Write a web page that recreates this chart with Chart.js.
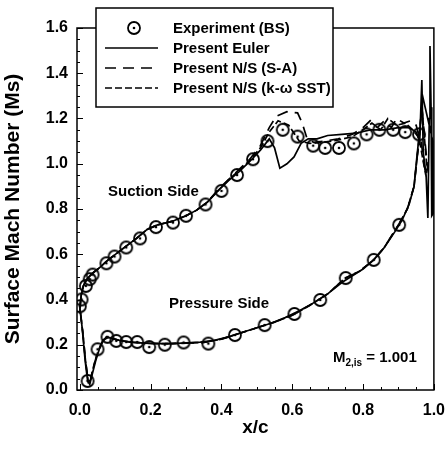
<!DOCTYPE html>
<html>
<head>
<meta charset="utf-8">
<script src="https://cdn.jsdelivr.net/npm/chart.js@4.4.1/dist/chart.umd.min.js"></script>
<style>
  body { margin: 0; background: #fff; }
</style>
</head>
<body>
<canvas id="grafica" width="448" height="453"></canvas>
<script type="text/javascript">

    // tick labels
    var xTicks = [0.0, 0.2, 0.4, 0.6, 0.8, 1.0]
    var yTicks = [0.0, 0.2, 0.4, 0.6, 0.8, 1.0, 1.2, 1.4, 1.6]

    // Experiment (BS) - suction side
    var expSuctionX = [0.000, 0.005, 0.017, 0.028, 0.036, 0.075, 0.098, 0.131, 0.170, 0.215, 0.263, 0.300, 0.355, 0.400, 0.444, 0.489, 0.530, 0.573, 0.615, 0.659, 0.693, 0.732, 0.774, 0.810, 0.846, 0.885, 0.919, 0.958]
    var expSuctionY = [0.370, 0.400, 0.460, 0.490, 0.510, 0.560, 0.590, 0.630, 0.670, 0.720, 0.740, 0.770, 0.820, 0.880, 0.950, 1.020, 1.100, 1.150, 1.120, 1.080, 1.070, 1.070, 1.090, 1.130, 1.150, 1.150, 1.140, 1.130]
    // Experiment (BS) - pressure side
    var expPressureX = [0.022, 0.050, 0.078, 0.103, 0.131, 0.162, 0.196, 0.240, 0.293, 0.363, 0.438, 0.522, 0.606, 0.679, 0.751, 0.830, 0.902]
    var expPressureY = [0.040, 0.180, 0.235, 0.217, 0.212, 0.212, 0.190, 0.200, 0.210, 0.205, 0.243, 0.287, 0.336, 0.398, 0.495, 0.575, 0.730]

    // Present Euler (suction side, trailing edge, pressure side back to leading edge)
    var eulerX = [0.000, 0.004, 0.010, 0.020, 0.035, 0.055, 0.080, 0.105, 0.130, 0.160, 0.190, 0.220, 0.260, 0.300, 0.330, 0.360, 0.390, 0.420, 0.450, 0.480, 0.510, 0.535, 0.550, 0.565, 0.585, 0.605, 0.625, 0.645, 0.670, 0.700, 0.740, 0.780, 0.820, 0.860, 0.900, 0.930, 0.950, 0.960,
                  0.966, 0.970, 0.978, 0.983, 0.987, 0.989, 0.992, 0.994, 0.998, 0.997,
                  0.968, 0.960, 0.952, 0.944, 0.930, 0.910, 0.890, 0.860, 0.830, 0.800, 0.770, 0.740, 0.700, 0.660, 0.620, 0.580, 0.540, 0.500, 0.460, 0.420, 0.380, 0.340, 0.300, 0.260, 0.220, 0.180, 0.140, 0.110, 0.090, 0.075, 0.065, 0.055, 0.045, 0.035, 0.028, 0.022, 0.015, 0.008, 0.003, 0.000]
    var eulerY = [0.360, 0.420, 0.460, 0.490, 0.515, 0.540, 0.575, 0.605, 0.635, 0.670, 0.710, 0.730, 0.745, 0.770, 0.795, 0.830, 0.880, 0.925, 0.965, 1.010, 1.060, 1.110, 1.070, 0.980, 1.000, 1.030, 1.090, 1.110, 1.110, 1.125, 1.130, 1.135, 1.150, 1.150, 1.160, 1.160, 1.140, 1.100,
                  1.370, 1.050, 0.950, 0.760, 1.200, 1.520, 1.250, 0.770, 0.780, 1.100,
                  1.300, 1.150, 1.030, 0.900, 0.820, 0.750, 0.700, 0.630, 0.575, 0.535, 0.505, 0.475, 0.425, 0.385, 0.350, 0.320, 0.295, 0.275, 0.255, 0.235, 0.220, 0.212, 0.208, 0.205, 0.205, 0.207, 0.212, 0.220, 0.228, 0.235, 0.215, 0.180, 0.130, 0.070, 0.025, 0.040, 0.130, 0.250, 0.330, 0.360]

    // Present N/S (S-A)
    var saX = [0.000, 0.004, 0.010, 0.020, 0.035, 0.055, 0.080, 0.105, 0.130, 0.160, 0.190, 0.220, 0.260, 0.300, 0.330, 0.360, 0.390, 0.420, 0.450, 0.480, 0.510, 0.535, 0.555, 0.585, 0.615, 0.628, 0.642, 0.660, 0.690, 0.730, 0.770, 0.800, 0.820, 0.840, 0.860, 0.880, 0.895, 0.915, 0.935, 0.950, 0.958,
               0.964, 0.972, 0.978, 0.982,
               0.966, 0.955, 0.944, 0.925, 0.900, 0.860, 0.830, 0.790, 0.750, 0.700, 0.650, 0.600, 0.550, 0.500, 0.450, 0.400, 0.350, 0.300, 0.250, 0.200, 0.150, 0.110, 0.080, 0.065, 0.050, 0.038, 0.030, 0.024, 0.016, 0.008, 0.000]
    var saY = [0.360, 0.420, 0.460, 0.490, 0.515, 0.540, 0.575, 0.605, 0.635, 0.670, 0.710, 0.730, 0.745, 0.770, 0.795, 0.830, 0.885, 0.930, 0.975, 1.020, 1.080, 1.160, 1.210, 1.230, 1.225, 1.180, 1.110, 1.095, 1.100, 1.110, 1.130, 1.160, 1.190, 1.160, 1.190, 1.160, 1.200, 1.180, 1.190, 1.170, 1.120,
               1.100, 1.000, 0.950, 0.980,
               1.250, 1.060, 0.900, 0.800, 0.730, 0.630, 0.575, 0.525, 0.495, 0.425, 0.375, 0.330, 0.300, 0.275, 0.250, 0.225, 0.210, 0.207, 0.205, 0.206, 0.211, 0.220, 0.232, 0.220, 0.165, 0.100, 0.045, 0.035, 0.130, 0.260, 0.360]

    // Present N/S (k-w SST)
    var sstX = [0.000, 0.004, 0.010, 0.020, 0.035, 0.055, 0.080, 0.105, 0.130, 0.160, 0.190, 0.220, 0.260, 0.300, 0.330, 0.360, 0.390, 0.420, 0.450, 0.480, 0.510, 0.535, 0.560, 0.590, 0.620, 0.650, 0.690, 0.730, 0.770, 0.800, 0.825, 0.850, 0.870, 0.895, 0.920, 0.940, 0.955,
                0.962, 0.970, 0.976, 0.980,
                0.966, 0.955, 0.944, 0.925, 0.900, 0.860, 0.830, 0.790, 0.750, 0.700, 0.650, 0.600, 0.550, 0.500, 0.450, 0.400, 0.350, 0.300, 0.250, 0.200, 0.150, 0.110, 0.080, 0.065, 0.050, 0.038, 0.030, 0.024, 0.016, 0.008, 0.000]
    var sstY = [0.360, 0.420, 0.460, 0.490, 0.515, 0.540, 0.575, 0.605, 0.635, 0.670, 0.710, 0.730, 0.745, 0.770, 0.795, 0.830, 0.880, 0.930, 0.970, 1.015, 1.070, 1.140, 1.190, 1.170, 1.100, 1.090, 1.095, 1.105, 1.120, 1.150, 1.180, 1.150, 1.200, 1.170, 1.180, 1.150, 1.120,
                1.080, 1.010, 0.960, 0.990,
                1.250, 1.060, 0.900, 0.800, 0.730, 0.630, 0.575, 0.525, 0.495, 0.425, 0.375, 0.330, 0.300, 0.275, 0.250, 0.225, 0.210, 0.207, 0.205, 0.206, 0.211, 0.220, 0.232, 0.220, 0.165, 0.100, 0.045, 0.035, 0.130, 0.260, 0.360]

    function puntos(xs, ys) {
        return xs.map((x, i) => ({x: x, y: ys[i]}))
    }

    // circle with a dot, like the scanned symbol
    function simbolo() {
        var c = document.createElement('canvas')
        c.width = 16; c.height = 16
        var g = c.getContext('2d')
        g.strokeStyle = '#000'
        g.lineWidth = 1.8
        g.beginPath(); g.arc(8, 8, 6, 0, Math.PI * 2); g.stroke()
        g.fillStyle = '#000'
        g.beginPath(); g.arc(8, 8, 1.3, 0, Math.PI * 2); g.fill()
        return c
    }
    var circulo = simbolo()
    var fuente = '"Liberation Sans", Arial, sans-serif'

    var marco = {
        id: 'marco',
        afterDatasetsDraw(chart) {
            var ctx = chart.ctx, a = chart.chartArea
            var x = chart.scales.x, y = chart.scales.y
            ctx.save()
            ctx.strokeStyle = '#000'
            ctx.lineWidth = 1.5
            ctx.strokeRect(a.left, a.top, a.right - a.left, a.bottom - a.top)
            ctx.lineWidth = 1
            ctx.beginPath()
            // inward ticks, minor every 0.05
            for (var i = 0; i <= 20; i++) {
                var px = Math.round(x.getPixelForValue(i * 0.05)) + 0.5
                var l = i % 4 === 0 ? 6 : 3
                ctx.moveTo(px, a.bottom); ctx.lineTo(px, a.bottom - l)
            }
            for (var j = 0; j <= 32; j++) {
                var py = Math.round(y.getPixelForValue(j * 0.05)) + 0.5
                var l2 = j % 4 === 0 ? 6 : 3
                ctx.moveTo(a.left, py); ctx.lineTo(a.left + l2, py)
            }
            ctx.stroke()

            // texts in the plot
            ctx.fillStyle = '#000'
            ctx.textBaseline = 'alphabetic'
            ctx.textAlign = 'left'
            ctx.font = 'bold 15px ' + fuente
            ctx.fillText('Suction Side', 108, 196)
            ctx.fillText('Pressure Side', 169, 308)
            ctx.fillText('M', 333, 362)
            var w = ctx.measureText('M').width
            ctx.font = 'bold 10px ' + fuente
            ctx.fillText('2,is', 333 + w, 366)
            var w2 = ctx.measureText('2,is').width
            ctx.font = 'bold 15px ' + fuente
            ctx.fillText(' = 1.001', 333 + w + w2, 362)
            ctx.restore()
        },
        afterDraw(chart) {
            // legend box overlapping the top frame
            var ctx = chart.ctx
            var bx = 96, by = 8, bw = 237, bh = 99
            ctx.save()
            ctx.fillStyle = '#fff'
            ctx.fillRect(bx, by, bw, bh)
            ctx.strokeStyle = '#000'
            ctx.lineWidth = 1.5
            ctx.strokeRect(bx, by, bw, bh)
            var filas = [28, 48, 68, 88]
            ctx.font = 'bold 15px ' + fuente
            ctx.textBaseline = 'middle'
            ctx.fillStyle = '#000'
            filas.forEach((fy, k) => {
                var ds = chart.data.datasets[k === 0 ? 0 : k + 1]
                if (k === 0) {
                    ctx.drawImage(circulo, 134 - 8, fy - 8)
                } else {
                    ctx.lineWidth = 1.7
                    ctx.setLineDash(ds.borderDash || [])
                    ctx.beginPath(); ctx.moveTo(105, fy); ctx.lineTo(158, fy); ctx.stroke()
                    ctx.setLineDash([])
                }
                ctx.fillText(ds.label, 173, fy + 1)
            })
            ctx.restore()
        }
    }

    var canvas = document.getElementById('grafica')
    var context = canvas.getContext('2d')

    var lineaBase = {
        showLine: true,
        pointRadius: 0,
        pointHoverRadius: 0,
        borderColor: '#000',
        borderWidth: 1.7,
        tension: 0,
        fill: false
    }

    var datos = {
        datasets: [{
            label: 'Experiment (BS)',
            data: puntos(expSuctionX, expSuctionY),
            pointStyle: circulo,
            showLine: false
        }, {
            label: 'Experiment (BS) pressure',
            data: puntos(expPressureX, expPressureY),
            pointStyle: circulo,
            showLine: false
        }, Object.assign({
            label: 'Present Euler',
            data: puntos(eulerX, eulerY)
        }, lineaBase), Object.assign({
            label: 'Present N/S (S-A)',
            data: puntos(saX, saY),
            borderDash: [11, 7]
        }, lineaBase), Object.assign({
            label: 'Present N/S (k-\u03c9 SST)',
            data: puntos(sstX, sstY),
            borderDash: [7, 3]
        }, lineaBase)]
    }

    window.grafica = new Chart(context, {
        type: 'scatter',
        data: datos,
        plugins: [marco],
        options: {
            responsive: false,
            animation: false,
            devicePixelRatio: 1,
            layout: { padding: { top: 28, right: 9, left: 0, bottom: 0 } },
            plugins: { legend: { display: false }, tooltip: { enabled: false } },
            scales: {
                x: {
                    type: 'linear',
                    min: -0.008,
                    max: 1.0,
                    afterBuildTicks: s => { s.ticks = xTicks.map(v => ({value: v})) },
                    afterFit: s => { s.height = 63 },
                    grid: { display: false },
                    border: { display: false },
                    ticks: {
                        color: '#000',
                        padding: 3,
                        maxRotation: 0,
                        font: { family: fuente, size: 16, weight: 'bold' },
                        callback: v => v.toFixed(1)
                    },
                    title: {
                        display: true,
                        text: 'x/c',
                        color: '#000',
                        padding: { top: 0, bottom: 14 },
                        font: { family: fuente, size: 19, weight: 'bold' }
                    }
                },
                y: {
                    type: 'linear',
                    min: 0,
                    max: 1.6,
                    afterBuildTicks: s => { s.ticks = yTicks.map(v => ({value: v})) },
                    afterFit: s => { s.width = 77 },
                    grid: { display: false },
                    border: { display: false },
                    ticks: {
                        color: '#000',
                        padding: 1,
                        font: { family: fuente, size: 16, weight: 'bold' },
                        callback: v => v.toFixed(1)
                    },
                    title: {
                        display: true,
                        text: 'Surface Mach Number (Ms)',
                        color: '#000',
                        padding: { top: 1, bottom: 0 },
                        font: { family: fuente, size: 21, weight: 'bold' }
                    }
                }
            }
        }
    })

</script>
</body>
</html>
